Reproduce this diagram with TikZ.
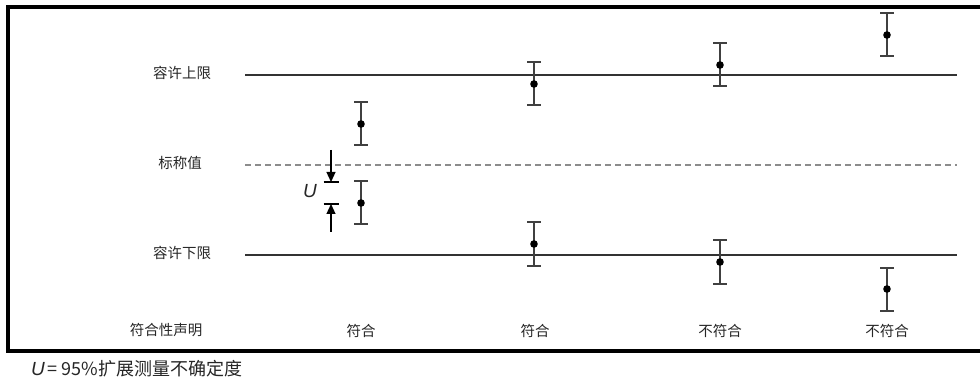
\documentclass[tikz,border=0pt]{standalone}
\usepackage{fontspec}
\setmainfont{Liberation Sans}
\newfontfamily\cjk{Noto Sans CJK SC}
\usetikzlibrary{arrows.meta,positioning}

\begin{document}
\begin{tikzpicture}[
    x=1pt,y=-1pt,
    >={Triangle[length=10pt,width=9pt]},
    limit/.style={draw=black!80,line width=1.6pt},
    nominal/.style={draw=black!45,line width=1.2pt,dash pattern=on 6pt off 4pt},
    bar/.style={draw=black!75,line width=2pt},
    lbl/.style={font=\cjk\fontsize{14.5}{16}\selectfont,text=black!85,inner sep=0pt}
]
\useasboundingbox (0,0) rectangle (980,382);

% Frame (open to the right)
\draw[line width=3.2pt] (985,7) -- (8,7) -- (8,351) -- (985,351);

% Limit labels
\node[lbl] (upper) at (182,73) {容许上限};
\node[lbl] (nom) at (180,163) {标称值};
\node[lbl] (lower) at (182,253) {容许下限};

% Limit lines
\coordinate (up0) at (245,75);  \coordinate (up1) at (957,75);
\coordinate (nom0) at (245,165); \coordinate (nom1) at (957,165);
\coordinate (lo0) at (245,255);  \coordinate (lo1) at (957,255);
\draw[limit] (up0) -- (up1);
\draw[nominal] (nom0) -- (nom1);
\draw[limit] (lo0) -- (lo1);

% Measurements with error bars
\foreach \n/\x/\y in {a/361/124, b/361/203, c/534/84, d/534/244,
                      e/720/65, f/720/262, g/887/35, h/887/289} {
  \coordinate (m\n) at (\x,\y);
  \draw[bar] ([yshift=21.5pt]m\n) -- ([yshift=-21.5pt]m\n);
  \draw[bar] ([xshift=-7pt,yshift=21.5pt]m\n) -- ([xshift=7pt,yshift=21.5pt]m\n);
  \draw[bar] ([xshift=-7pt,yshift=-21.5pt]m\n) -- ([xshift=7pt,yshift=-21.5pt]m\n);
  \fill (m\n) circle[radius=3.8pt];
}

% Uncertainty indicator
\coordinate (utop) at (331,150);
\coordinate (ubar1) at (331,182);
\coordinate (ubar2) at (331,204);
\coordinate (ubot) at (331,232);
\draw[line width=1.2pt,->] (utop) -- (ubar1);
\draw[line width=1.2pt,->] (ubot) -- (ubar2);
\draw[line width=1.4pt] ([xshift=-7.5pt]ubar1) -- ([xshift=7.5pt]ubar1);
\draw[line width=1.4pt] ([xshift=-7.5pt]ubar2) -- ([xshift=7.5pt]ubar2);
\node[font=\fontsize{19}{20}\selectfont\itshape,text=black!85,inner sep=0pt] (ulbl) at (310,191) {U};

% Conformity statements
\node[lbl] (stmt) at (166,330) {符合性声明};
\node[lbl] (sa) at (361,331) {符合};
\node[lbl] (sc) at (535,331) {符合};
\node[lbl] (se) at (720,331) {不符合};
\node[lbl] (sg) at (887,331) {不符合};

% Legend
\node[anchor=west,inner sep=0pt,text=black!85] (legend) at (31,369)
  {{\fontsize{19}{20}\selectfont\itshape U}\kern3pt{\cjk\fontsize{18}{20}\selectfont = 95\%扩展测量不确定度}};

\end{tikzpicture}
\end{document}
